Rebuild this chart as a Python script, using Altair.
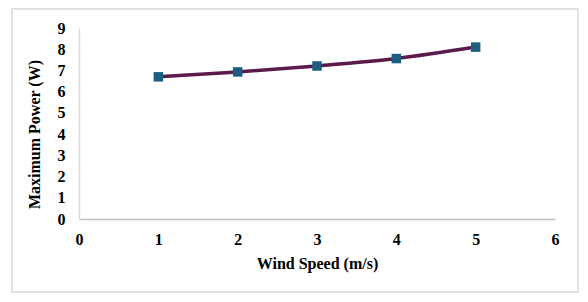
import altair as alt
import pandas as pd

wind_speed = [1, 2, 3, 4, 5]
max_power = [6.70, 6.93, 7.21, 7.56, 8.10]

df = pd.DataFrame({"Wind Speed": wind_speed, "Maximum Power": max_power})

FONT = "Liberation Serif"

x = alt.X("Wind Speed:Q", scale=alt.Scale(domain=[0, 6], nice=False),
          axis=alt.Axis(title="Wind Speed (m/s)", values=[0, 1, 2, 3, 4, 5, 6],
                        grid=False, ticks=False, domainColor="#bfbfbf", domainWidth=1.5,
                        labelPadding=12, titlePadding=8, labelFlush=False))
y = alt.Y("Maximum Power:Q", scale=alt.Scale(domain=[0, 9], nice=False),
          axis=alt.Axis(title="Maximum Power (W)", values=list(range(10)),
                        grid=False, ticks=False, domainColor="#d9d9d9", domainWidth=1.5,
                        labelPadding=14, titlePadding=15, titleY=106, labelFlush=False))

border = alt.Chart(pd.DataFrame({"a": [0]})).mark_rect(
    fill=None, stroke="#d9d9d9", strokeWidth=1.5, clip=False
).encode(x=alt.value(-67), x2=alt.value(499), y=alt.value(-19), y2=alt.value(264))

line = alt.Chart(df).mark_line(color="#5b1a4c", strokeWidth=3.5, interpolate="monotone").encode(x=x, y=y)
pts = alt.Chart(df).mark_point(shape="square", filled=True, color="#1b5e82", size=90, opacity=1).encode(x=x, y=y)

chart = alt.layer(border, line, pts).properties(
    width=476, height=191,
    autosize=alt.AutoSizeParams(type="none"),
    padding={"left": 71, "top": 20, "right": 25, "bottom": 75},
).configure_view(stroke=None).configure_axis(
    labelFont=FONT, titleFont=FONT, labelFontSize=16, titleFontSize=16,
    labelFontWeight="bold", titleFontWeight="bold", labelColor="#000", titleColor="#000"
)

chart.save("out.html", embed_options={"renderer": "svg", "actions": False})
